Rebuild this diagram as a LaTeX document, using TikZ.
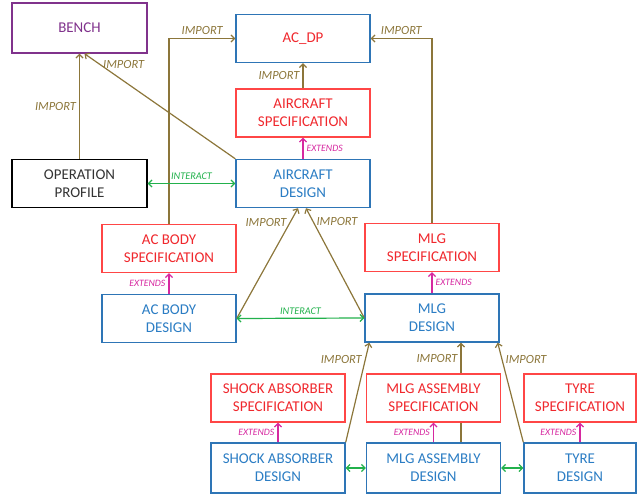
\documentclass[tikz,border=0pt]{standalone}
\usepackage{fontspec}
\setmainfont{Carlito}
\usetikzlibrary{arrows.meta,calc}

\definecolor{impcol}{RGB}{140,118,58}
\definecolor{dblue}{RGB}{46,117,182}
\definecolor{dbluetxt}{RGB}{43,125,196}
\definecolor{sred}{RGB}{255,70,70}
\definecolor{sredtxt}{RGB}{240,40,45}
\definecolor{bpurple}{RGB}{128,50,140}
\definecolor{intgreen}{RGB}{34,177,76}
\definecolor{extmag}{RGB}{214,40,160}

\tikzset{
    box/.style={draw,line width=1.4bp,fill=white,minimum width=134bp,minimum height=48bp,
        align=center,inner sep=2bp,font=\fontsize{15}{18}\selectfont},
    design/.style={box,draw=dblue,text=dbluetxt},
    spec/.style={box,draw=sred,text=sredtxt},
    tip/.style={-{Straight Barb[length=3.5bp,width=7bp]}},
    imp/.style={tip,draw=impcol,line width=1.2bp},
    ext/.style={tip,draw=extmag,line width=1.2bp},
    inter/.style={{Straight Barb[length=3.5bp,width=7bp]}-{Straight Barb[length=3.5bp,width=7bp]},draw=intgreen,line width=1.2bp},
    implbl/.style={text=impcol,font=\fontsize{12.5}{14}\selectfont\itshape,inner sep=3bp},
    extlbl/.style={text=extmag,font=\fontsize{9.8}{11}\selectfont\itshape,inner sep=3bp},
    intlbl/.style={text=intgreen,font=\fontsize{10.3}{12}\selectfont\itshape,inner sep=3bp}
}

\begin{document}
\begin{tikzpicture}[x=1bp,y=-1bp]
    \useasboundingbox (0,0) rectangle (637,495);

    % boxes
    \node[box,draw=bpurple,text=bpurple,minimum width=135bp,minimum height=50bp] (bench) at (79.5,28) {BENCH};
    \node[design,text=sredtxt] (acdp) at (303,38.5) {AC\_DP};
    \node[spec] (acspec) at (303,113) {AIRCRAFT\\SPECIFICATION};
    \node[design] (acdesign) at (303,183.5) {AIRCRAFT\\DESIGN};
    \node[box,draw=black,text=black!80,minimum width=135bp] (opprofile) at (79.5,183.5) {OPERATION\\PROFILE};
    \node[spec] (bodyspec) at (169,248.5) {AC BODY\\SPECIFICATION};
    \node[design] (bodydesign) at (169,318.5) {AC BODY\\DESIGN};
    \node[spec] (mlgspec) at (432,247.5) {MLG\\SPECIFICATION};
    \node[design] (mlgdesign) at (432,318) {MLG\\DESIGN};
    \node[spec] (shockspec) at (278,398) {SHOCK ABSORBER\\SPECIFICATION};
    \node[design,minimum height=50bp] (shockdesign) at (278,468) {SHOCK ABSORBER\\DESIGN};
    \node[spec] (asmspec) at (433.5,398) {MLG ASSEMBLY\\SPECIFICATION};
    \node[design,minimum height=50bp] (asmdesign) at (433.5,468) {MLG ASSEMBLY\\DESIGN};
    \node[spec,minimum width=112bp] (tyrespec) at (580,398) {TYRE\\SPECIFICATION};
    \node[design,minimum width=112bp,minimum height=50bp] (tyredesign) at (580,468) {TYRE\\DESIGN};

    % imports
    \draw[imp] (opprofile.north) -- (bench.south) node[implbl,midway,left]{IMPORT};
    \draw[imp] (acdesign.north west) -- ($(bench.south)+(5,0)$) node[implbl,pos=0.9,right]{IMPORT};
    \draw[imp] (bodyspec.north) |- (acdp.west) node[implbl,pos=0.75,above]{IMPORT};
    \draw[imp] (acspec.north) -- (acdp.south) node[implbl,midway,left]{IMPORT};
    \draw[imp] (mlgspec.north) |- (acdp.east) node[implbl,pos=0.75,above]{IMPORT};
    \draw[imp] (bodydesign.east) -- ($(acdesign.south)+(-5,0)$) node[implbl,pos=0.87,left]{IMPORT};
    \draw[imp] (mlgdesign.west) -- ($(acdesign.south)+(3,0)$) node[implbl,pos=0.88,right]{IMPORT};
    \draw[imp] (shockdesign.north east) -- ($(mlgdesign.south west)+(5,0)$) node[implbl,pos=0.83,left]{IMPORT};
    \coordinate (asmtop) at ($(asmdesign.north)+(27.5,0)$);
    \draw[draw=impcol,line width=1.2bp] (asmtop) -- (asmtop |- asmspec.south);
    \draw[imp] (asmtop |- asmspec.north) -- (asmtop |- mlgdesign.south) node[implbl,midway,left]{IMPORT};
    \draw[imp] (tyredesign.north west) -- ($(mlgdesign.south east)+(-2,0)$) node[implbl,pos=0.83,right]{IMPORT};

    % extends
    \draw[ext] (acdesign.north) -- (acspec.south) node[extlbl,midway,right]{EXTENDS};
    \draw[ext] (bodydesign.north) -- (bodyspec.south) node[extlbl,midway,left]{EXTENDS};
    \draw[ext] (mlgdesign.north) -- (mlgspec.south) node[extlbl,midway,right]{EXTENDS};
    \draw[ext] (shockdesign.north) -- (shockspec.south) node[extlbl,midway,left]{EXTENDS};
    \draw[ext] (asmdesign.north) -- (asmspec.south) node[extlbl,midway,left]{EXTENDS};
    \draw[ext] (tyredesign.north) -- (tyrespec.south) node[extlbl,midway,left]{EXTENDS};

    % interacts
    \draw[inter] (opprofile.east) -- (acdesign.west) node[intlbl,midway,above]{INTERACT};
    \draw[inter] (bodydesign.east) -- (mlgdesign.west) node[intlbl,midway,above]{INTERACT};
    \draw[inter] (shockdesign.east) -- (asmdesign.west);
    \draw[inter] (asmdesign.east) -- (tyredesign.west);
\end{tikzpicture}
\end{document}
